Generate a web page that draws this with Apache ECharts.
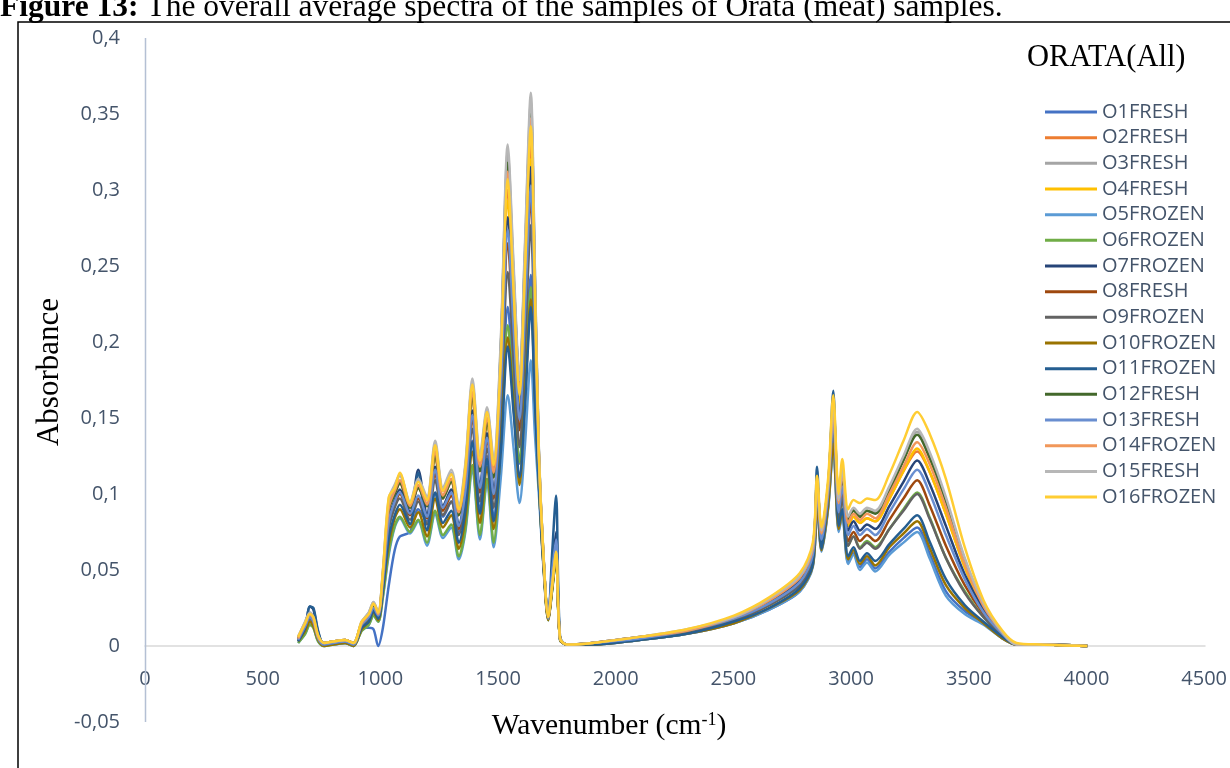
<!DOCTYPE html>
<html><head><meta charset="utf-8">
<script src="https://cdn.jsdelivr.net/npm/echarts@6/dist/echarts.min.js"></script>
<style>html,body{margin:0;padding:0;background:#fff}#c{width:1230px;height:768px}</style>
</head><body><div id="c"></div>
<script>
// ---- data ----
const wavenumbers = [650,680,700,715,735,760,800,850,885,920,
950,970,990,1010,1035,1060,1082,1125,1160,1197,
1232,1265,1300,1332,1360,1390,1422,1452,1480,1510,
1540,1565,1590,1612,1638,1655,1672,1690,1712,1728,
1745,1762,1790,1900,2100,2300,2500,2650,2780,2835,
2853,2872,2900,2922,2945,2960,2985,3008,3035,3065,
3100,3160,3220,3278,3330,3400,3480,3560,3640,3700,
3800,4000];

const O1FRESH = [.003,.010,.016,.014,.004,.001,.001,.002,.000,.012,
.012,.011,.000,.012,.040,.063,.072,.075,.090,.082,
.100,.085,.095,.075,.090,.135,.090,.125,.085,.142,
.223,.172,.120,.176,.244,.179,.111,.059,.018,.037,
.059,.004,.001,.001,.004,.008,.015,.024,.036,.053,
.093,.063,.091,.131,.076,.087,.055,.061,.052,.057,
.051,.062,.071,.078,.061,.036,.023,.015,.005,.001,
.001,0];
const O2FRESH = [.005,.014,.020,.018,.006,.002,.003,.004,.002,.015,
.020,.027,.021,.046,.090,.100,.107,.091,.104,.092,
.125,.097,.108,.086,.111,.164,.115,.147,.111,.184,
.300,.228,.162,.237,.333,.230,.125,.063,.019,.039,
.061,.005,.001,.002,.005,.010,.019,.030,.044,.063,
.106,.073,.104,.155,.093,.112,.079,.085,.081,.084,
.082,.097,.115,.128,.115,.087,.052,.025,.009,.001,
.001,0];
const O3FRESH = [.006,.016,.022,.019,.007,.002,.003,.004,.002,.016,
.022,.029,.022,.049,.095,.105,.112,.094,.109,.096,
.133,.102,.114,.091,.118,.173,.123,.155,.120,.197,
.325,.246,.172,.256,.358,.247,.129,.065,.019,.039,
.061,.005,.001,.002,.006,.010,.019,.031,.046,.065,
.108,.075,.106,.159,.096,.116,.084,.090,.086,.089,
.088,.103,.123,.141,.125,.096,.057,.027,.009,.001,
.001,0];
const O4FRESH = [.005,.015,.021,.018,.006,.002,.003,.004,.002,.015,
.021,.027,.021,.047,.090,.101,.108,.091,.105,.092,
.126,.098,.109,.087,.112,.165,.116,.148,.113,.180,
.293,.224,.158,.231,.320,.226,.123,.063,.019,.039,
.061,.005,.001,.002,.005,.010,.019,.030,.044,.063,
.106,.073,.104,.155,.093,.112,.079,.085,.081,.084,
.082,.097,.115,.130,.115,.087,.052,.025,.009,.001,
.001,0];
const O5FROZEN = [.002,.008,.014,.012,.003,0,.001,.002,0,.010,
.014,.020,.016,.032,.060,.078,.084,.074,.082,.066,
.087,.071,.078,.057,.075,.116,.070,.108,.065,.110,
.165,.130,.094,.130,.188,.140,.100,.055,.017,.036,
.058,.004,.001,.001,.004,.008,.015,.024,.036,.052,
.092,.062,.090,.130,.075,.085,.054,.060,.050,.055,
.049,.060,.068,.075,.058,.033,.021,.014,.005,.001,
.001,0];
const O6FROZEN = [.002,.008,.014,.012,.003,0,.001,.002,0,.010,
.014,.020,.016,.033,.062,.079,.085,.075,.083,.068,
.089,.073,.080,.059,.077,.119,.073,.110,.068,.135,
.211,.164,.121,.166,.236,.171,.108,.058,.017,.036,
.058,.004,.001,.001,.005,.009,.017,.027,.040,.057,
.099,.067,.097,.142,.083,.098,.066,.072,.065,.069,
.065,.077,.090,.101,.085,.058,.036,.019,.007,.001,
.001,0];
const O7FROZEN = [.005,.013,.026,.024,.009,.001,.002,.003,.001,.014,
.019,.026,.020,.044,.084,.096,.103,.088,.116,.087,
.118,.092,.103,.080,.104,.155,.106,.140,.103,.174,
.282,.215,.152,.222,.315,.218,.121,.062,.019,.050,
.075,.005,.001,.002,.005,.010,.018,.029,.043,.062,
.104,.072,.102,.151,.090,.108,.076,.082,.076,.080,
.077,.092,.108,.122,.107,.079,.047,.024,.008,.001,
.001,0];
const O8FRESH = [.004,.012,.018,.016,.005,.001,.002,.003,.001,.013,
.018,.025,.019,.042,.080,.093,.100,.086,.097,.084,
.113,.089,.099,.077,.100,.149,.101,.135,.097,.165,
.265,.203,.142,.209,.296,.207,.118,.061,.018,.038,
.060,.005,.001,.001,.005,.009,.017,.027,.041,.059,
.101,.069,.099,.145,.086,.101,.069,.075,.069,.073,
.069,.083,.097,.109,.093,.066,.040,.021,.007,.001,
.001,0];
const O9FROZEN = [.004,.012,.018,.015,.005,.001,.002,.003,.001,.013,
.018,.024,.019,.040,.077,.091,.097,.083,.095,.080,
.109,.086,.095,.073,.095,.143,.095,.130,.091,.154,
.246,.189,.131,.194,.277,.194,.115,.060,.018,.038,
.060,.005,.001,.001,.005,.009,.017,.027,.040,.057,
.098,.067,.096,.141,.083,.097,.066,.072,.064,.068,
.064,.077,.089,.100,.084,.058,.035,.019,.007,.001,
.001,0];
const O10FROZEN = [.003,.010,.016,.013,.004,0,.001,.002,0,.011,
.016,.022,.017,.036,.067,.084,.090,.078,.088,.072,
.097,.078,.086,.064,.084,.128,.081,.118,.077,.131,
.203,.158,.106,.160,.228,.165,.107,.057,.017,.037,
.059,.004,.001,.001,.004,.008,.015,.025,.037,.053,
.094,.063,.092,.133,.077,.088,.057,.063,.054,.059,
.053,.065,.074,.082,.065,.040,.025,.015,.005,.001,
.001,0];
const O11FROZEN = [.003,.012,.026,.025,.010,.001,.002,.003,.001,.012,
.016,.023,.018,.037,.071,.086,.093,.080,.114,.076,
.101,.081,.089,.068,.089,.134,.087,.123,.082,.127,
.197,.153,.111,.155,.223,.161,.106,.057,.019,.060,
.099,.006,.001,.001,.004,.008,.016,.025,.038,.054,
.118,.064,.100,.168,.079,.090,.059,.065,.056,.061,
.056,.067,.077,.086,.069,.044,.027,.016,.006,.001,
.001,0];
const O12FRESH = [.005,.014,.020,.018,.006,.002,.003,.004,.002,.015,
.020,.027,.021,.046,.090,.100,.107,.091,.104,.092,
.125,.097,.108,.086,.111,.164,.115,.147,.111,.194,
.318,.242,.173,.251,.351,.242,.128,.064,.019,.039,
.061,.005,.001,.002,.006,.010,.019,.030,.046,.065,
.108,.075,.106,.158,.095,.115,.083,.089,.085,.089,
.087,.102,.122,.139,.124,.095,.056,.027,.009,.001,
.001,0];
const O13FRESH = [.004,.013,.019,.016,.005,.001,.002,.003,.001,.014,
.019,.025,.020,.043,.082,.095,.101,.087,.099,.085,
.116,.091,.101,.079,.102,.152,.104,.137,.100,.169,
.274,.209,.149,.216,.303,.213,.120,.062,.018,.048,
.070,.005,.001,.002,.005,.010,.018,.028,.042,.060,
.102,.070,.100,.148,.088,.105,.073,.079,.073,.077,
.073,.088,.103,.116,.101,.073,.044,.022,.008,.001,
.001,0];
const O14FROZEN = [.005,.015,.021,.018,.006,.002,.003,.004,.002,.015,
.021,.028,.021,.047,.091,.102,.109,.092,.106,.093,
.128,.099,.110,.088,.113,.167,.118,.150,.114,.190,
.312,.237,.168,.246,.347,.238,.127,.064,.019,.039,
.061,.005,.001,.002,.006,.010,.019,.030,.045,.064,
.107,.074,.105,.156,.094,.114,.081,.087,.083,.087,
.084,.100,.118,.134,.120,.091,.054,.026,.009,.001,
.001,0];
const O15FRESH = [.006,.016,.022,.019,.007,.002,.003,.004,.002,.016,
.022,.029,.022,.050,.097,.106,.113,.095,.110,.098,
.135,.104,.116,.093,.120,.176,.126,.157,.123,.200,
.330,.250,.175,.260,.364,.250,.130,.065,.020,.040,
.062,.005,.001,.002,.006,.011,.019,.031,.046,.066,
.109,.076,.107,.160,.096,.117,.085,.091,.087,.091,
.089,.105,.125,.143,.128,.098,.058,.028,.009,.001,
.001,0];
const O16FROZEN = [.006,.015,.021,.019,.007,.002,.003,.004,.002,.016,
.021,.028,.022,.049,.098,.104,.114,.094,.108,.096,
.132,.102,.113,.090,.117,.172,.122,.154,.119,.187,
.307,.233,.165,.242,.342,.235,.126,.064,.019,.039,
.062,.005,.001,.002,.006,.011,.020,.032,.048,.068,
.112,.078,.110,.165,.100,.123,.090,.096,.094,.097,
.096,.113,.135,.154,.140,.110,.065,.030,.010,.002,
.001,0];

const seriesNames = ['O1FRESH','O2FRESH','O3FRESH','O4FRESH','O5FROZEN','O6FROZEN','O7FROZEN','O8FRESH',
  'O9FROZEN','O10FROZEN','O11FROZEN','O12FRESH','O13FRESH','O14FROZEN','O15FRESH','O16FROZEN'];
const seriesValues = [O1FRESH,O2FRESH,O3FRESH,O4FRESH,O5FROZEN,O6FROZEN,O7FROZEN,O8FRESH,
  O9FROZEN,O10FROZEN,O11FROZEN,O12FRESH,O13FRESH,O14FROZEN,O15FRESH,O16FROZEN];
const yTickLabels = ['-0,05','0','0,05','0,1','0,15','0,2','0,25','0,3','0,35','0,4'];
const xTickLabels = ['0','500','1000','1500','2000','2500','3000','3500','4000','4500'];

// ---- styling ----
const colors = ['#4472C4','#ED7D31','#A5A5A5','#FFC000','#5B9BD5','#70AD47','#264478','#9E480E',
  '#636363','#997300','#255E91','#43682B','#698ED0','#F1975A','#B7B7B7','#FFCD33'];
const labelColor = '#44546A';
const sansFont = '"Open Sans", sans-serif';
const serifFont = '"Liberation Serif", "Times New Roman", serif';

const chart = echarts.init(document.getElementById('c'), null, {renderer: 'canvas'});
chart.setOption({
  animation: false,
  backgroundColor: '#ffffff',
  color: colors,
  grid: [
    {left: 145, right: 25, top: 38, bottom: 46, containLabel: false},
    // upper part of the plot (0 .. 0,4), used only to place the x tick labels under the zero line
    {left: 145, right: 25, top: 38, bottom: 122, containLabel: false}
  ],
  xAxis: [{
    type: 'value', min: 0, max: 4500, interval: 500,
    axisLine: {onZero: true, lineStyle: {color: '#D9D9D9', width: 1.5}},
    axisTick: {show: false}, splitLine: {show: false}, axisLabel: {show: false}
  }, {
    gridIndex: 1, type: 'value', min: 0, max: 4500, interval: 500,
    axisLine: {show: false}, axisTick: {show: false}, splitLine: {show: false},
    axisLabel: {color: labelColor, fontFamily: sansFont, fontSize: 20, margin: 23,
      formatter: v => xTickLabels[Math.round(v / 500)]}
  }],
  yAxis: [{
    type: 'value', min: -0.05, max: 0.4, interval: 0.05,
    axisLine: {show: false},
    axisTick: {show: false}, splitLine: {show: false},
    axisLabel: {color: labelColor, fontFamily: sansFont, fontSize: 20, margin: 25,
      formatter: v => yTickLabels[Math.round((v + 0.05) / 0.05)]}
  }, {
    gridIndex: 1, type: 'value', min: 0, max: 0.4, show: false
  }],
  legend: {
    orient: 'vertical', left: 1045, top: 102, padding: 0,
    icon: 'rect', itemWidth: 52, itemHeight: 3, itemGap: 5.67,
    textStyle: {color: labelColor, fontFamily: sansFont, fontSize: 20, lineHeight: 20, padding: [0,0,0,0]},
    data: seriesNames
  },
  graphic: [
    {type: 'rect', shape: {x: 18, y: 22, width: 1240, height: 780}, style: {fill: 'none', stroke: '#000', lineWidth: 1.5}, silent: true},
    {type: 'line', shape: {x1: 145.5, y1: 38, x2: 145.5, y2: 722}, style: {stroke: '#B4C0D4', lineWidth: 1.5}, silent: true, z: 1},
    {type: 'text', x: 0, y: 8, style: {text: '{b|Figure 13:} The overall average spectra of the samples of Orata (meat) samples.',
      font: '31.5px ' + serifFont, fill: '#000', textVerticalAlign: 'middle',
      rich: {b: {fontWeight: 'bold', fontSize: 31.5, fontFamily: serifFont}}}},
    {type: 'text', x: 50, y: 372, rotation: Math.PI / 2, style: {text: 'Absorbance', font: '31px ' + serifFont, fill: '#000',
      textAlign: 'center', textVerticalAlign: 'middle'}},
    {type: 'text', x: 609, y: 726, style: {text: 'Wavenumber (cm{s|-1})', font: '29.5px ' + serifFont, fill: '#000',
      textAlign: 'center', textVerticalAlign: 'middle',
      rich: {s: {fontSize: 18, fontFamily: serifFont, verticalAlign: 'top', padding: [0,0,10,0]}}}},
    {type: 'text', x: 1027, y: 58, style: {text: 'ORATA(All)', font: '30.5px ' + serifFont, fill: '#000',
      textAlign: 'left', textVerticalAlign: 'middle'}}
  ],
  series: seriesValues.map((vals, i) => ({
    name: seriesNames[i], type: 'line', showSymbol: false, smooth: 0.3,
    lineStyle: {width: 2.5, color: colors[i]}, itemStyle: {color: colors[i]},
    data: wavenumbers.map((w, k) => [w, vals[k]]), z: 2 + i
  }))
});
</script></body></html>
